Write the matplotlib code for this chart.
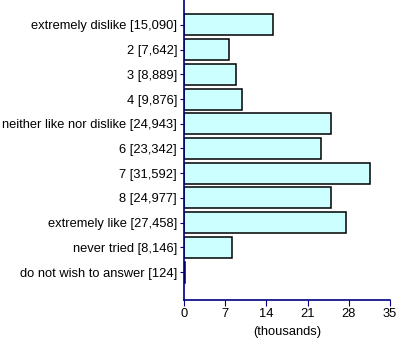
import matplotlib
matplotlib.use("Agg")
import matplotlib.pyplot as plt

# survey responses, counts per answer
categories = ['extremely dislike', '2', '3', '4', 'neither like nor dislike',
              '6', '7', '8', 'extremely like', 'never tried', 'do not wish to answer']
counts = [15090, 7642, 8889, 9876, 24943, 23342, 31592, 24977, 27458, 8146, 124]
xticks = [0, 7, 14, 21, 28, 35]

plt.rcParams['font.family'] = ['Liberation Sans', 'DejaVu Sans']

labels = [f'{c} [{n:,}]' for c, n in zip(categories, counts)]
values = [n / 1000 for n in counts]
pos = list(range(len(categories)))

fig = plt.figure(figsize=(4, 3.42), dpi=100)
ax = fig.add_axes([0.46, 0.123, 0.515, 0.877])

ax.barh(pos, values, height=0.85, color='#ccffff', edgecolor='black', linewidth=1.1)

ax.set_ylim(11.13, -1.01)
ax.set_xlim(0, 35)
ax.set_xticks(xticks)
ax.set_yticks(pos)
ax.set_yticklabels(labels, fontsize=9.3)
ax.tick_params(axis='x', labelsize=9.3, color='#000080', length=4, pad=2)
ax.tick_params(axis='y', color='#000080', length=3, pad=2)
ax.set_xlabel('(thousands)', fontsize=9.3, labelpad=4)

for side in ['top', 'right']:
    ax.spines[side].set_visible(False)
for side in ['left', 'bottom']:
    ax.spines[side].set_color('#000080')
    ax.spines[side].set_linewidth(1.2)

plt.savefig('out.png', dpi=100)
